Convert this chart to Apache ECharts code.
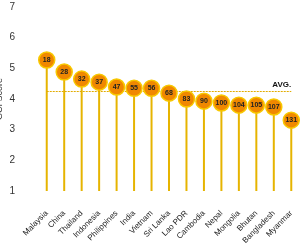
<!DOCTYPE html>
<html>
<head>
<meta charset="utf-8">
<script src="https://cdn.jsdelivr.net/npm/echarts@6/dist/echarts.min.js"></script>
<style>
	html, body { margin: 0; padding: 0; background: #fff; }
	#main { width: 300px; height: 250px; }
</style>
</head>
<body>
<div id="main"></div>
<script>
var countries = ['Malaysia', 'China', 'Thailand', 'Indonesia', 'Philippines', 'India', 'Vietnam', 'Sri Lanka', 'Lao PDR', 'Cambodia', 'Nepal', 'Mongolia', 'Bhutan', 'Bangladesh', 'Myanmar'];
var scores = [5.27, 4.88, 4.65, 4.55, 4.39, 4.35, 4.35, 4.19, 4.0, 3.93, 3.87, 3.8, 3.8, 3.74, 3.31];
var ranks = [18, 28, 32, 37, 47, 55, 56, 68, 83, 90, 100, 104, 105, 107, 131];
var avgScore = 4.26;
var yTicks = [1, 2, 3, 4, 5, 6, 7];

var myChart = echarts.init(document.getElementById('main'));

var option = {
	animation: false,
	textStyle: { fontFamily: 'Liberation Sans, Arial, sans-serif' },
	grid: { left: 38, top: 7, width: 262, height: 184, outerBoundsMode: 'none', containLabel: false },
	xAxis: {
		type: 'category',
		data: countries,
		offset: 14,
		axisLine: { show: false },
		axisTick: { show: false },
		axisLabel: { rotate: 45, fontSize: 8, color: '#222', margin: 7, interval: 0 }
	},
	yAxis: {
		type: 'value',
		min: yTicks[0],
		max: yTicks[yTicks.length - 1],
		interval: 1,
		name: 'GCI Score',
		nameLocation: 'middle',
		nameGap: 34,
		nameMoveOverlap: false,
		nameTextStyle: { fontSize: 9, color: '#333' },
		axisLine: { show: false },
		axisTick: { show: false },
		splitLine: { show: false },
		axisLabel: { fontSize: 10, color: '#333', margin: 23 }
	},
	series: [{
		// stems
		type: 'bar',
		data: scores,
		barWidth: 2,
		itemStyle: { color: '#E6B400' },
		markLine: {
			silent: true,
			symbol: 'none',
			lineStyle: { color: '#E2AC00', type: [2, 1], width: 1.2, opacity: 1 },
			label: { show: true, position: 'insideEndTop', formatter: 'AVG.', fontSize: 8, fontWeight: 'bold', color: '#111', distance: [0, 2] },
			data: [[{ coord: [0, avgScore] }, { coord: [countries.length - 1, avgScore] }]]
		}
	}, {
		// ranking bubbles
		type: 'scatter',
		data: scores,
		symbolSize: 16,
		itemStyle: { color: '#F08800', borderColor: '#F8C800', borderWidth: 1.5, opacity: 1 },
		label: {
			show: true,
			position: 'inside',
			fontSize: 7,
			fontWeight: 'bold',
			color: '#222',
			formatter: function(p) { return ranks[p.dataIndex]; }
		},
		z: 5
	}]
};

myChart.setOption(option);
</script>
</body>
</html>
